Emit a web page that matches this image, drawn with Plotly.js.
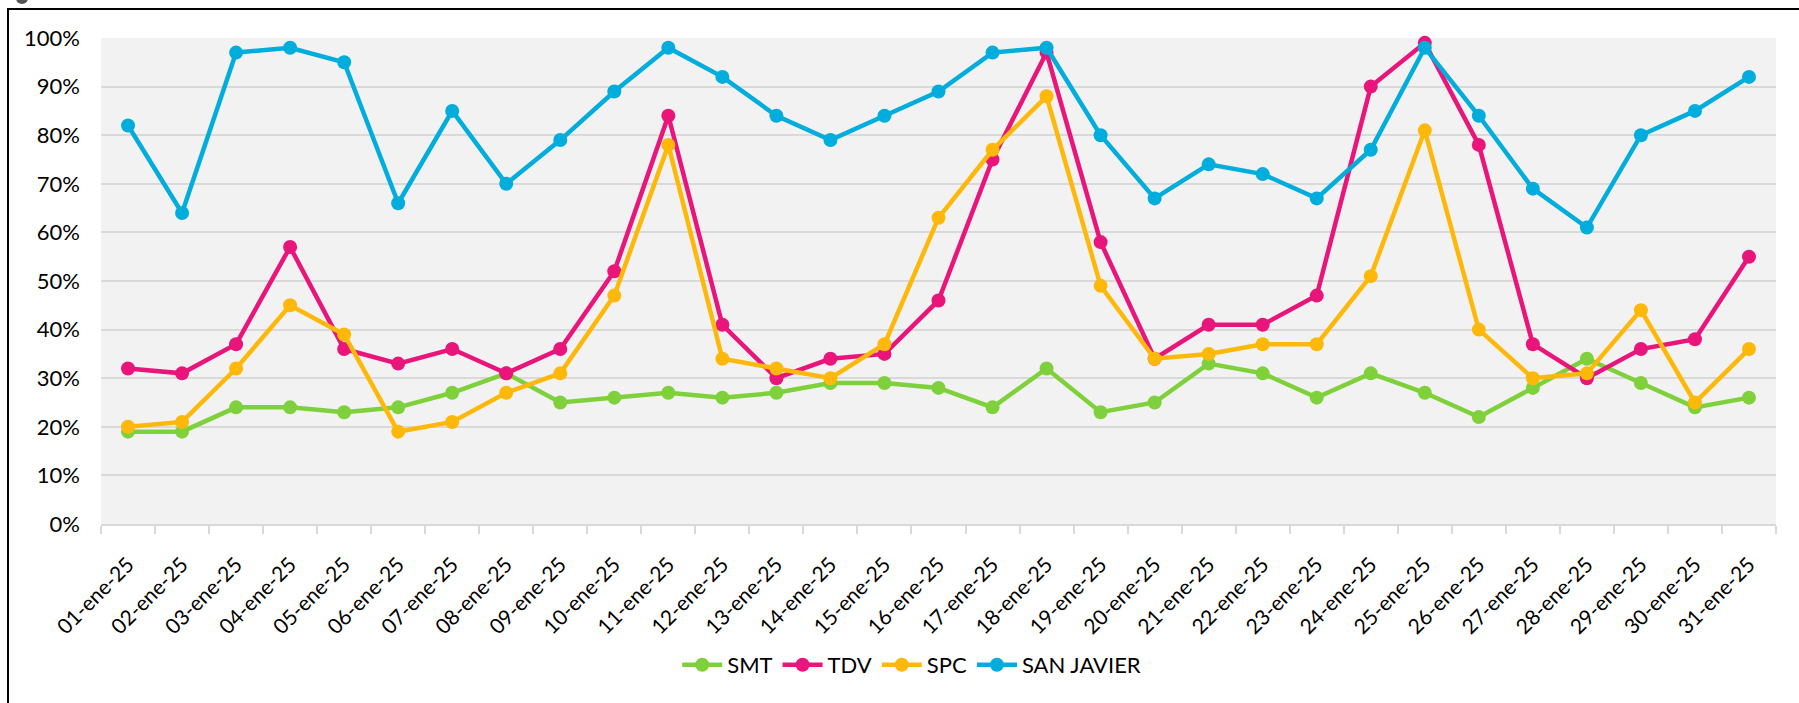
<!DOCTYPE html>
<html>
<head>
<meta charset="utf-8">
<script src="https://cdn.plot.ly/plotly-3.0.1.min.js"></script>
<style>
    html, body { margin: 0; padding: 0; background: #fff; overflow: hidden; }
    #frame {
        position: absolute; left: 7px; top: 8px; width: 1900px; height: 900px;
        border: 2px solid #000; box-sizing: border-box; pointer-events: none;
    }
    #handle {
        position: absolute; left: 16px; top: -8px; width: 12px; height: 12px;
        border-radius: 50%; background: #555; pointer-events: none;
    }
    #plot { position: absolute; left: 0; top: 0; width: 1799px; height: 703px; }
</style>
</head>
<body>
<div id="plot"></div>
<div id="frame"></div>
<div id="handle"></div>
<script>
const days = [
    '01-ene-25', '02-ene-25', '03-ene-25', '04-ene-25', '05-ene-25', '06-ene-25', '07-ene-25',
    '08-ene-25', '09-ene-25', '10-ene-25', '11-ene-25', '12-ene-25', '13-ene-25', '14-ene-25',
    '15-ene-25', '16-ene-25', '17-ene-25', '18-ene-25', '19-ene-25', '20-ene-25', '21-ene-25',
    '22-ene-25', '23-ene-25', '24-ene-25', '25-ene-25', '26-ene-25', '27-ene-25', '28-ene-25',
    '29-ene-25', '30-ene-25', '31-ene-25'
];

// percent values
const smt = [19, 19, 24, 24, 23, 24, 27, 31, 25, 26, 27, 26, 27, 29, 29, 28, 24, 32, 23, 25, 33, 31, 26, 31, 27, 22, 28, 34, 29, 24, 26];
const tdv = [32, 31, 37, 57, 36, 33, 36, 31, 36, 52, 84, 41, 30, 34, 35, 46, 75, 97, 58, 34, 41, 41, 47, 90, 99, 78, 37, 30, 36, 38, 55];
const spc = [20, 21, 32, 45, 39, 19, 21, 27, 31, 47, 78, 34, 32, 30, 37, 63, 77, 88, 49, 34, 35, 37, 37, 51, 81, 40, 30, 31, 44, 25, 36];
const sanJavier = [82, 64, 97, 98, 95, 66, 85, 70, 79, 89, 98, 92, 84, 79, 84, 89, 97, 98, 80, 67, 74, 72, 67, 77, 98, 84, 69, 61, 80, 85, 92];

const seriesNames = ['SMT', 'TDV', 'SPC', 'SAN JAVIER'];
const seriesColors = ['#7FD13B', '#EA157A', '#FEB80A', '#00ADDC'];

function makeTrace(values, i) {
    return {
        x: days,
        y: values.map(v => v / 100),
        name: seriesNames[i],
        legendgroup: seriesNames[i],
        type: 'scatter',
        mode: 'lines+markers',
        line: { color: seriesColors[i], width: 4.5 },
        marker: { color: seriesColors[i], size: 14 },
        cliponaxis: false,
        hovertemplate: '%{x}: %{y:.0%}<extra>' + seriesNames[i] + '</extra>'
    };
}

const traces = [smt, tdv, spc, sanJavier].map(makeTrace);

const layout = {
    width: 1799,
    height: 703,
    margin: { l: 101, r: 23, t: 38, b: 179 },
    paper_bgcolor: '#ffffff',
    plot_bgcolor: '#F2F2F2',
    font: { family: 'Lato, "Open Sans", sans-serif', size: 22, color: '#000' },
    showlegend: true,
    legend: {
        orientation: 'h',
        x: 0.484,
        xanchor: 'center',
        y: -0.29,
        yanchor: 'middle',
        font: { size: 22, color: '#000' },
        itemwidth: 40,
        tracegroupgap: 22
    },
    xaxis: {
        type: 'category',
        range: [-0.5, 30.5],
        tickangle: -45,
        tickson: 'boundaries',
        ticks: 'outside',
        ticklen: 8,
        tickwidth: 2,
        tickcolor: '#D9D9D9',
        showline: true,
        linecolor: '#D9D9D9',
        linewidth: 2,
        showgrid: false,
        ticklabelstandoff: 18,
        tickfont: { size: 21, color: '#000' }
    },
    yaxis: {
        range: [0, 1],
        dtick: 0.1,
        tickformat: '.0%',
        showgrid: true,
        gridcolor: '#D9D9D9',
        gridwidth: 2,
        zeroline: false,
        showline: false,
        ticks: '',
        ticklabelstandoff: 20,
        tickfont: { size: 22, color: '#000' }
    }
};

Plotly.newPlot('plot', traces, layout, { displayModeBar: false, responsive: false });
</script>
</body>
</html>
